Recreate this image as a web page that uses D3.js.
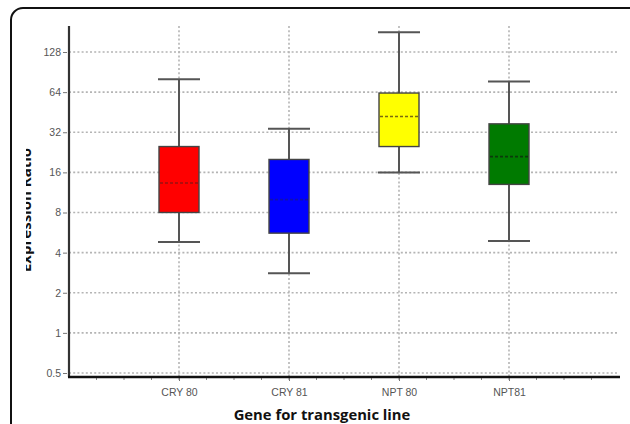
<!DOCTYPE html>
<html>
<head>
<meta charset="utf-8">
<script src="https://cdn.jsdelivr.net/npm/d3@7"></script>
<style>
  html, body { margin: 0; padding: 0; background: #fff; }
  svg { display: block; }
</style>
</head>
<body>
<svg id="chart" width="630" height="424"></svg>
<script>
// Expression ratio per transgenic line (box = quartiles, whiskers = range)
const categories  = ["CRY 80", "CRY 81", "NPT 80", "NPT81"];
const whiskerLow  = [4.8, 2.8, 16, 4.9];
const q1          = [8, 5.6, 25, 13];
const median      = [13.3, 10, 42, 21];
const q3          = [25, 20, 63, 37];
const whiskerHigh = [80, 34, 180, 77];
const yTicks      = [0.5, 1, 2, 4, 8, 16, 32, 64, 128];

const fills   = ["#ff0000", "#0000ff", "#ffff00", "#007a00"];
const medCols = ["#9a1010", "#1010b0", "#7a6a10", "#0a3a0a"];

const svg = d3.select("#chart");

// outer rounded frame
svg.append("rect")
  .attr("x", 11).attr("y", 8).attr("width", 640).attr("height", 440)
  .attr("rx", 12).attr("fill", "#fff")
  .attr("stroke", "#111").attr("stroke-width", 2);

const plotL = 69, plotR = 619, plotT = 26, plotB = 377;

const x = d3.scalePoint().domain(categories).range([plotL, plotR]).padding(1);
const y = d3.scaleLog().base(2).domain([0.5, 128]).range([373, 52]);

const grid = svg.append("g");
// horizontal grid
grid.selectAll("line.h").data(yTicks).join("line")
  .attr("class", "h")
  .attr("x1", plotL).attr("x2", plotR)
  .attr("y1", d => y(d)).attr("y2", d => y(d))
  .attr("stroke", "#b4b4b4").attr("stroke-width", 1.6)
  .attr("stroke-dasharray", "2,2.2");
// vertical grid at categories
grid.selectAll("line.v").data(categories).join("line")
  .attr("class", "v")
  .attr("x1", d => x(d)).attr("x2", d => x(d))
  .attr("y1", plotT).attr("y2", plotB)
  .attr("stroke", "#b4b4b4").attr("stroke-width", 1.6)
  .attr("stroke-dasharray", "2,2.2");

// y axis
const yAxis = d3.axisLeft(y).tickValues(yTicks)
  .tickFormat(d3.format("~g")).tickSize(4).tickPadding(2);
const ya = svg.append("g").attr("transform", `translate(${plotL - 2},0)`).call(yAxis);
ya.select(".domain").remove();
ya.selectAll(".tick line").attr("stroke", "#777");
ya.selectAll(".tick text")
  .attr("font-family", "Liberation Sans, Arial, sans-serif")
  .attr("font-size", 10.5).attr("fill", "#555");

svg.append("line")
  .attr("x1", plotL).attr("x2", plotL).attr("y1", plotT).attr("y2", plotB)
  .attr("stroke", "#333").attr("stroke-width", 2.2);

// x axis
const xAxis = d3.axisBottom(x).tickSize(4).tickPadding(8);
const xa = svg.append("g").attr("transform", `translate(0,${plotB})`).call(xAxis);
xa.select(".domain").remove();
xa.selectAll(".tick line").attr("stroke", "#777");
xa.selectAll(".tick text")
  .attr("font-family", "Liberation Sans, Arial, sans-serif")
  .attr("font-size", 10.5).attr("fill", "#555");

// minor ticks along the x axis
const step = x.step();
const minor = d3.range(plotL + step / 4, plotR, step / 4);
svg.append("g").selectAll("line").data(minor).join("line")
  .attr("x1", d => d).attr("x2", d => d)
  .attr("y1", plotB).attr("y2", plotB + 3)
  .attr("stroke", "#888").attr("stroke-width", 1);

svg.append("line")
  .attr("x1", plotL - 1).attr("x2", plotR + 1).attr("y1", plotB).attr("y2", plotB)
  .attr("stroke", "#111").attr("stroke-width", 2.6);

// boxes
const boxW = 40, capW = 42;
const boxes = svg.append("g").selectAll("g").data(categories).join("g");

boxes.append("line")
  .attr("x1", d => x(d)).attr("x2", d => x(d))
  .attr("y1", (d, i) => y(whiskerHigh[i])).attr("y2", (d, i) => y(whiskerLow[i]))
  .attr("stroke", "#555").attr("stroke-width", 2);
boxes.append("line")
  .attr("x1", d => x(d) - capW / 2).attr("x2", d => x(d) + capW / 2)
  .attr("y1", (d, i) => y(whiskerHigh[i])).attr("y2", (d, i) => y(whiskerHigh[i]))
  .attr("stroke", "#555").attr("stroke-width", 2);
boxes.append("line")
  .attr("x1", d => x(d) - capW / 2).attr("x2", d => x(d) + capW / 2)
  .attr("y1", (d, i) => y(whiskerLow[i])).attr("y2", (d, i) => y(whiskerLow[i]))
  .attr("stroke", "#555").attr("stroke-width", 2);
boxes.append("rect")
  .attr("x", d => x(d) - boxW / 2).attr("width", boxW)
  .attr("y", (d, i) => y(q3[i]))
  .attr("height", (d, i) => y(q1[i]) - y(q3[i]))
  .attr("fill", (d, i) => fills[i])
  .attr("stroke", "#444").attr("stroke-width", 1.4);
boxes.append("line")
  .attr("x1", d => x(d) - boxW / 2 + 1).attr("x2", d => x(d) + boxW / 2 - 1)
  .attr("y1", (d, i) => y(median[i])).attr("y2", (d, i) => y(median[i]))
  .attr("stroke", (d, i) => medCols[i]).attr("stroke-width", 1.6)
  .attr("stroke-dasharray", "3,2");

// axis titles
svg.append("text")
  .attr("x", 322).attr("y", 420).attr("text-anchor", "middle")
  .attr("font-family", "Open Sans, DejaVu Sans, sans-serif")
  .attr("font-weight", "bold").attr("font-size", 14.8).attr("fill", "#111")
  .text("Gene for transgenic line");

// y title, its upper half hidden behind the left margin
svg.append("clipPath").attr("id", "ytclip")
  .append("rect").attr("x", 26).attr("y", 0).attr("width", 40).attr("height", 424);
svg.append("g")
  .attr("clip-path", "url(#ytclip)")
  .append("text")
  .attr("transform", "translate(30.5,210) rotate(-90)")
  .attr("text-anchor", "middle")
  .attr("font-family", "Open Sans, DejaVu Sans, sans-serif")
  .attr("font-weight", "bold").attr("font-size", 15).attr("fill", "#111")
  .text("Expression Ratio");
</script>
</body>
</html>
